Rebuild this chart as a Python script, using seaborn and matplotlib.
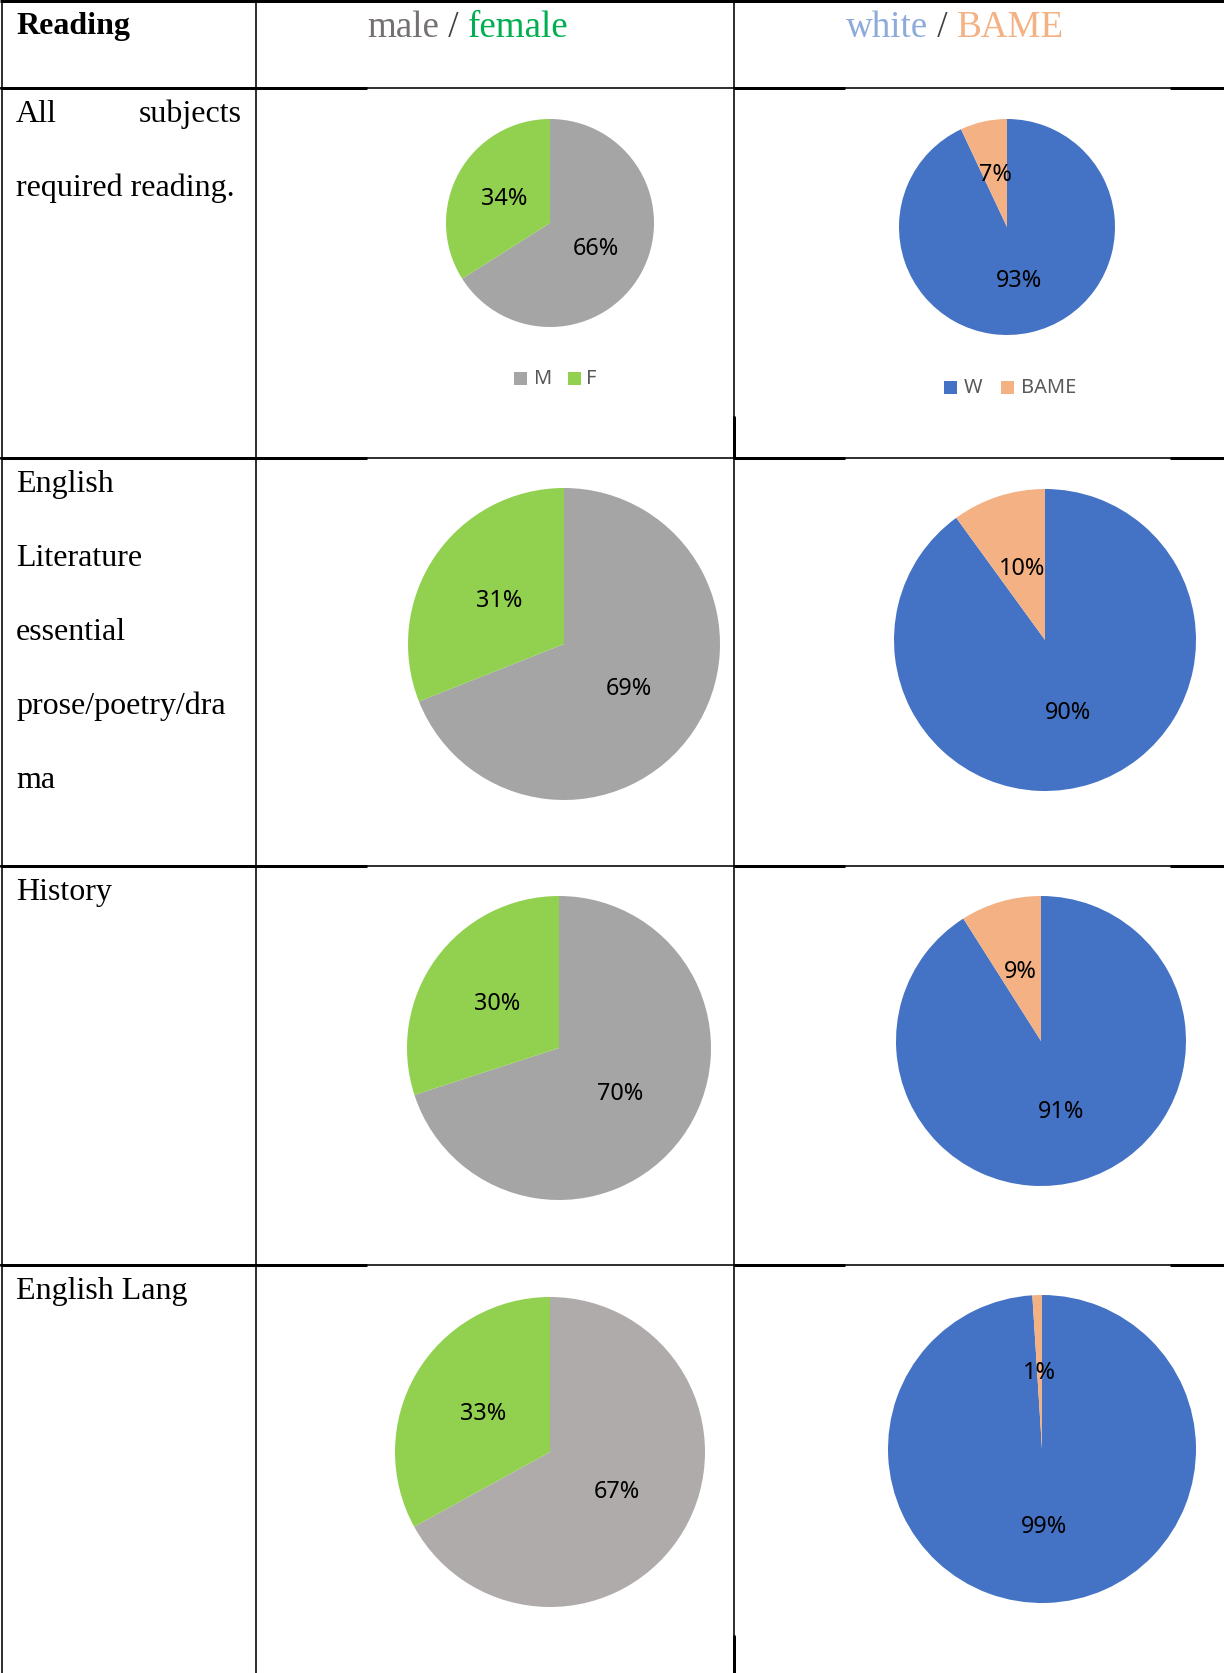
import matplotlib
matplotlib.use("Agg")
import matplotlib.pyplot as plt
from matplotlib.patches import Rectangle
import seaborn as sns

# ---- data -------------------------------------------------------------
subject_lines = [
    [("All", "subjects"), "required reading."],
    ["English", "Literature", "essential", "prose/poetry/dra", "ma"],
    ["History"],
    ["English Lang"],
]
gender_labels = ["M", "F"]
male_pct = [66, 69, 70, 67]
female_pct = [34, 31, 30, 33]
ethnicity_labels = ["W", "BAME"]
white_pct = [93, 90, 91, 99]
bame_pct = [7, 10, 9, 1]

# ---- styling ----------------------------------------------------------
sns.set_theme(style="white")
plt.rcParams["font.family"] = ["Liberation Serif", "DejaVu Serif"]
plt.rcParams["text.color"] = "black"

W, H = 1224, 1674
fig = plt.figure(figsize=(W / 100, H / 100), dpi=100)
fig.patch.set_facecolor("white")

base = fig.add_axes([0, 0, 1, 1])
base.set_xlim(0, W)
base.set_ylim(H, 0)
base.axis("off")

PX = 0.72  # pixels -> points at 100 dpi
serif = ["Liberation Serif", "DejaVu Serif"]
sans = ["Noto Sans", "DejaVu Sans"]

grey_cols = ["#A5A5A5", "#A5A5A5", "#A5A5A5", "#AFABAB"]
green = "#92D050"
blue = "#4472C4"
orange = "#F4B183"

# ---- table grid -------------------------------------------------------
col_x = [2, 256, 734]
row_y = [2, 89, 459, 867, 1266]
thin, thick = 1.6, 3.0
for x in col_x:
    base.plot([x, x], [2, H], color="black", lw=thin * PX, solid_capstyle="butt")
base.plot([0, W], [2, 2], color="black", lw=thick * PX, solid_capstyle="butt")
for y in row_y[1:]:
    base.plot([0, W], [y, y], color="black", lw=thin * PX, solid_capstyle="butt")
    for x0, x1 in [(0, 367), (734, 845), (1170, W)]:
        base.plot([x0, x1], [y, y], color="black", lw=thick * PX,
                  solid_capstyle="butt")
base.plot([734, 734], [418, 459], color="black", lw=thick * PX)
base.plot([734, 734], [1637, H], color="black", lw=thick * PX)

# ---- header -----------------------------------------------------------
base.text(16, 34, "Reading", fontsize=32 * PX, fontweight="bold",
          family=serif, color="black", va="baseline", ha="left")


def coloured_line(parts, cx, y, size):
    """Draw consecutive text pieces in different colours, centred on cx."""
    renderer = fig.canvas.get_renderer()
    texts = []
    for s, c in parts:
        texts.append(base.text(0, y, s, fontsize=size, family=serif, color=c,
                               va="baseline", ha="left"))
    widths = []
    inv = base.transData.inverted()
    for t in texts:
        bb = t.get_window_extent(renderer)
        p0 = inv.transform((bb.x0, bb.y0))
        p1 = inv.transform((bb.x1, bb.y0))
        widths.append(p1[0] - p0[0])
    x = cx - sum(widths) / 2
    for t, w in zip(texts, widths):
        t.set_x(x)
        x += w


coloured_line([("male", "#767171"), ("\u00a0/\u00a0", "#404040"),
               ("female", "#00B050")], 468, 37, 37 * PX)
coloured_line([("white", "#8EAADB"), ("\u00a0/\u00a0", "#404040"),
               ("BAME", orange)], 955, 37, 37 * PX)

# ---- subject column ---------------------------------------------------
for r, lines in enumerate(subject_lines):
    top = row_y[r + 1]
    for i, line in enumerate(lines):
        yb = top + 33 + i * 74
        if isinstance(line, tuple):
            base.text(16, yb, line[0], fontsize=32 * PX, family=serif,
                      color="black", va="baseline", ha="left")
            base.text(242, yb, line[1], fontsize=32 * PX, family=serif,
                      color="black", va="baseline", ha="right")
        else:
            base.text(16, yb, line, fontsize=32 * PX, family=serif,
                      color="black", va="baseline", ha="left")

# ---- pies -------------------------------------------------------------
gender_geom = [(550, 224, 104), (564, 645, 156), (559, 1049, 152), (550, 1453, 155)]
eth_geom = [(1007, 228, 108), (1045, 641, 151), (1041, 1042, 145), (1042, 1450, 154)]


def draw_pie(cx, cy, r, values, colours):
    ax = fig.add_axes([(cx - r) / W, 1 - (cy + r) / H, 2 * r / W, 2 * r / H])
    ax.pie(values, colors=colours, startangle=90, counterclock=False,
           autopct=lambda p: f"{p:.0f}%", pctdistance=0.5, radius=1,
           wedgeprops=dict(linewidth=0),
           textprops=dict(fontsize=23.5 * PX, family=sans, color="black"))
    ax.set_xlim(-1, 1)
    ax.set_ylim(-1, 1)
    ax.axis("off")
    return ax


for i in range(4):
    cx, cy, r = gender_geom[i]
    draw_pie(cx, cy, r, [male_pct[i], female_pct[i]], [grey_cols[i], green])
    cx, cy, r = eth_geom[i]
    draw_pie(cx, cy, r, [white_pct[i], bame_pct[i]], [blue, orange])

# ---- legends for the first row ---------------------------------------


def legend_row(items, y):
    for (sx, tx, label, colour) in items:
        base.add_patch(Rectangle((sx, y - 6.5), 13, 13, facecolor=colour,
                                 edgecolor="none"))
        base.text(tx, y, label, fontsize=20 * PX, family=sans,
                  color="#595959", va="center", ha="left")


legend_row([(514, 534, gender_labels[0], grey_cols[0]),
            (568, 586, gender_labels[1], green)], 379)
legend_row([(944, 964, ethnicity_labels[0], blue),
            (1001, 1021, ethnicity_labels[1], orange)], 388)

fig.savefig("out.png", dpi=100, facecolor="white")
